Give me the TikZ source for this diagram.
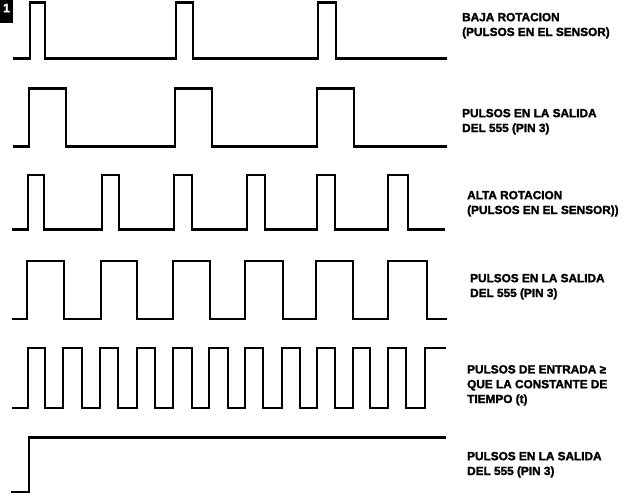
\documentclass[tikz,border=0pt]{standalone}
\usepackage{fontspec}
\newfontfamily\labfont{Liberation Sans}[BoldFeatures={FakeBold=2}]
\begin{document}
\begin{tikzpicture}[x=1pt,y=-1pt,
  wave/.style={line width=2.6pt, line join=miter, line cap=butt},
  lab/.style={anchor=base west, align=left, inner sep=0pt,
    font=\labfont\bfseries\fontsize{11.8}{14.8}\selectfont},
  numbox/.style={fill=black, draw=none}]
\fill[white] (0,0) rectangle (625,496);
\useasboundingbox (0,0) rectangle (625,496);
% figure number
\fill[numbox] (0,0) rectangle (13,23);
\node[text=white, inner sep=0pt, font=\labfont\bfseries\fontsize{12}{12}\selectfont] (fignum) at (6.5,8) {1};
% wave 1: baja rotacion
\draw[wave] (13,58.5) -| (30,2.5) -| (45,58.5) -| (176,2.5) -| (193,58.5) -| (318,2.5) -| (336,58.5) -- (447,58.5);
% wave 2
\draw[wave] (13,146.5) -| (29,88.5) -| (66,146.5) -| (175,88.5) -| (212,146.5) -| (317,88.5) -| (354,146.5) -- (447,146.5);
% wave 3: alta rotacion
\draw[wave] (12,229.5) -| (28,175) -| (44,229.5) -| (102,175) -| (119,229.5) -| (174,175) -| (192,229.5) -| (247,175) -| (265,229.5) -| (317,175) -| (335,229.5) -| (388,175) -| (408,229.5) -- (445,229.5);
% wave 4
\draw[wave] (12,319) -| (27,261) -| (64,319) -| (101,261) -| (137,319) -| (173,261) -| (210,319) -| (245,261) -| (283,319) -| (316,261) -| (353,319) -| (388,261) -| (427,319) -- (447,319);
% wave 5
\draw[wave] (12,408) -| (28,348) -| (45,408) -| (63,348) -| (82,408) -| (100,348) -| (118,408) -| (137,348) -| (155,408) -| (173,348) -| (192,408) -| (209,348) -| (228,408) -| (245,348) -| (263,408) -| (282,348) -| (300,408) -| (317,348) -| (335,408) -| (353,348) -| (370,408) -| (388,348) -| (406,408) -| (425,348) -- (446,348);
% wave 6
\draw[wave] (11,492) -| (29,437.5) -- (446,437.5);
% labels (anchor = baseline of the last line)
\node[lab] (l1) at (462,36) {BAJA ROTACION\\(PULSOS EN EL SENSOR)};
\node[lab] (l2) at (462,132) {PULSOS EN LA SALIDA\\DEL 555 (PIN 3)};
\node[lab] (l3) at (467,214) {ALTA ROTACION\\(PULSOS EN EL SENSOR))};
\node[lab] (l4) at (470,297) {PULSOS EN LA SALIDA\\DEL 555 (PIN 3)};
\node[lab] (l5) at (467,403) {PULSOS DE ENTRADA \char"2265\\QUE LA CONSTANTE DE\\TIEMPO (t)};
\node[lab] (l6) at (467,475) {PULSOS EN LA SALIDA\\DEL 555 (PIN 3)};
\end{tikzpicture}
\end{document}
